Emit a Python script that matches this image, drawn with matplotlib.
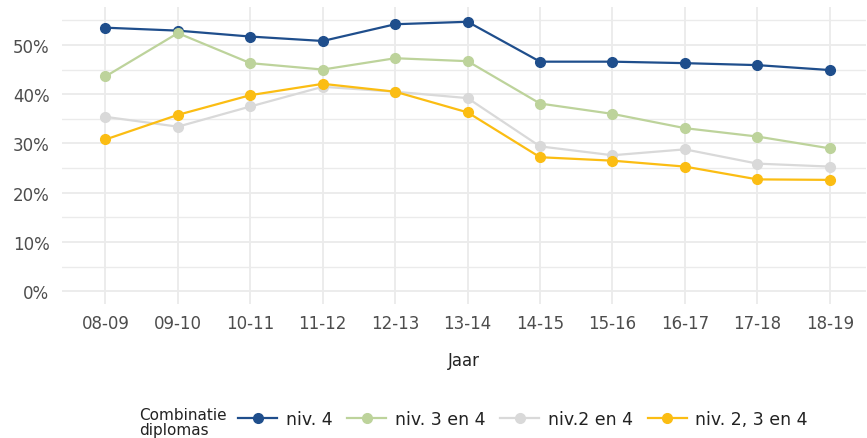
import numpy as np
import matplotlib.pyplot as plt
from matplotlib.ticker import FuncFormatter, MultipleLocator
from matplotlib.lines import Line2D

jaren = ["08-09", "09-10", "10-11", "11-12", "12-13", "13-14",
         "14-15", "15-16", "16-17", "17-18", "18-19"]

niv_4 = [53.5, 52.9, 51.7, 50.8, 54.2, 54.7, 46.6, 46.6, 46.3, 45.9, 44.9]
niv_3_4 = [43.6, 52.4, 46.3, 45.0, 47.3, 46.7, 38.1, 36.0, 33.1, 31.4, 29.0]
niv_2_4 = [35.4, 33.4, 37.5, 41.5, 40.5, 39.2, 29.4, 27.6, 28.8, 25.9, 25.3]
niv_2_3_4 = [30.8, 35.8, 39.8, 42.1, 40.5, 36.3, 27.2, 26.5, 25.3, 22.7, 22.6]

labels = ["niv. 4", "niv. 3 en 4", "niv.2 en 4", "niv. 2, 3 en 4"]
colors = ["#1f4e8c", "#bdd39b", "#d9d9d9", "#fbbd13"]
series = [niv_4, niv_3_4, niv_2_4, niv_2_3_4]

txt = "#4d4d4d"
grid = "#ebebeb"

fig = plt.figure(figsize=(8.67, 4.39), dpi=100)
ax = fig.add_axes([62 / 867, (439 - 305) / 439, (866 - 62) / 867, (305 - 8) / 439])

x = np.arange(len(jaren))
for vals, c, lab in zip(series, colors, labels):
    ax.plot(x, vals, color=c, lw=1.6, marker="o", ms=7, label=lab, zorder=3)

ax.set_xlim(-0.6, 10.5)
ax.set_ylim(-2.6, 57.7)
ax.yaxis.set_major_locator(MultipleLocator(10))
ax.yaxis.set_minor_locator(MultipleLocator(5))
ax.yaxis.set_major_formatter(FuncFormatter(lambda v, p: f"{v:.0f}%"))
ax.set_xticks(x)
ax.set_xticklabels(jaren)

ax.grid(True, which="major", axis="both", color=grid, lw=1.3)
ax.grid(True, which="minor", axis="y", color=grid, lw=1.0)
ax.set_axisbelow(True)
for s in ax.spines.values():
    s.set_visible(False)
ax.tick_params(which="both", length=0, labelsize=12, colors=txt, pad=7)
ax.tick_params(axis="y", pad=9)

ax.set_xlabel("Jaar", fontsize=12, color="#222222", labelpad=14)

handles = [Line2D([], [], color=c, lw=1.6, marker="o", ms=7) for c in colors]
fig.legend(handles, labels, loc="center left", bbox_to_anchor=(238 / 867, 1 - 420 / 439),
           ncol=4, frameon=False, fontsize=12.5, handlelength=2.25, columnspacing=0.85,
           handletextpad=0.5, borderpad=0, borderaxespad=0, labelcolor="#222222")
fig.text(139 / 867, 1 - 423 / 439, "Combinatie\ndiplomas", fontsize=11, color="#222222",
         va="center", ha="left", linespacing=0.95)

fig.savefig("out.png", dpi=100)
